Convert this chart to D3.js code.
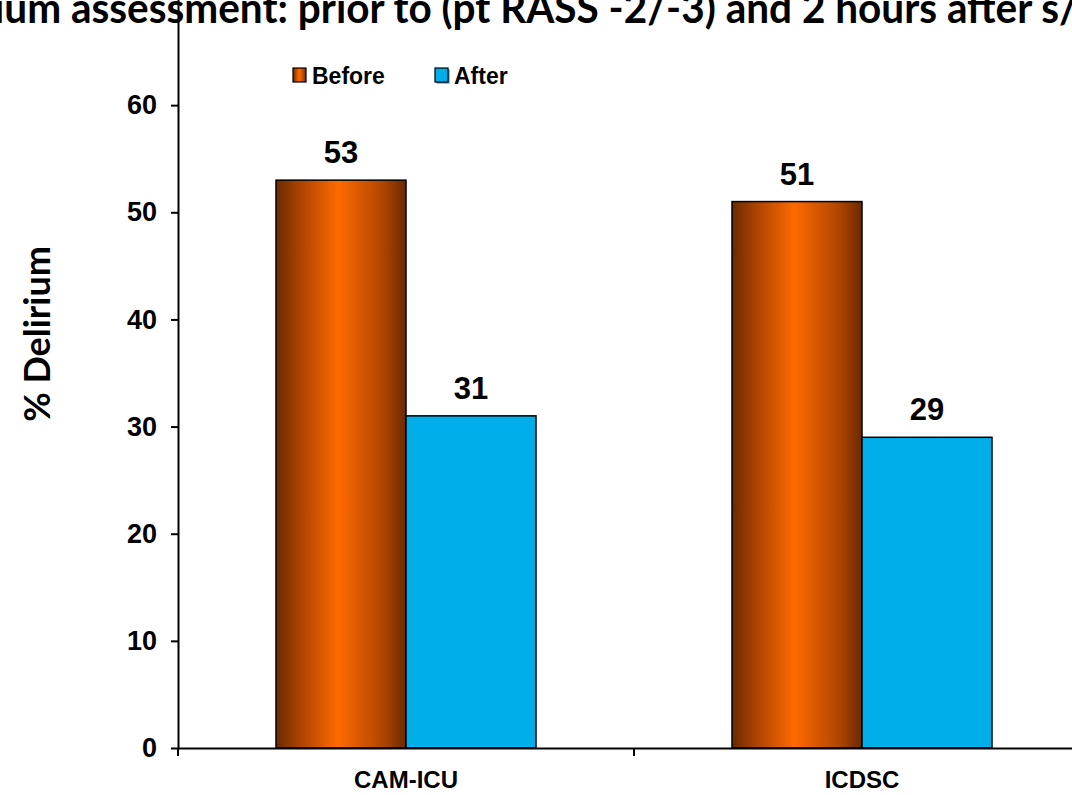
<!DOCTYPE html>
<html>
<head>
<meta charset="utf-8">
<script src="https://cdn.jsdelivr.net/npm/d3@7"></script>
<style>
  html, body { margin: 0; padding: 0; background: #ffffff; }
  svg { display: block; }
</style>
</head>
<body>
<div id="chart"></div>
<script>
// ---- data ----
const categories = ["CAM-ICU", "ICDSC"];
const seriesNames = ["Before", "After"];
const beforeValues = [53, 51];
const afterValues = [31, 29];
const yTicks = [0, 10, 20, 30, 40, 50, 60];
const titleText = "ium assessment: prior to (pt RASS -2/-3) and 2 hours after s/";
const yAxisTitle = "% Delirium";

// ---- layout ----
const W = 1072, H = 795;
const svg = d3.select("#chart").append("svg").attr("width", W).attr("height", H);
const defs = svg.append("defs");

const grad = defs.append("linearGradient").attr("id", "gBefore")
  .attr("x1", "0%").attr("x2", "100%").attr("y1", "0%").attr("y2", "0%");
[[0, "#6a2a00"], [0.18, "#a94300"], [0.48, "#ff6a00"], [0.82, "#b04600"], [1, "#6a2a00"]]
  .forEach(([o, c]) => grad.append("stop").attr("offset", o).attr("stop-color", c));

const colors = { Before: "url(#gBefore)", After: "#00aeea" };

const y = d3.scaleLinear().domain([0, 70]).range([748, -2]);
const x0 = d3.scaleBand().domain(categories).range([178, 1090]).padding(0);
const groupW = 260;
const x1 = d3.scaleBand().domain(seriesNames).range([0, groupW]).padding(0);

const rows = categories.map((c, i) => ({ cat: c, Before: beforeValues[i], After: afterValues[i] }));

// ---- title (clipped at the top of the page) ----
svg.append("text")
  .attr("x", -6).attr("y", 23)
  .attr("textLength", 1084).attr("lengthAdjust", "spacingAndGlyphs")
  .style("font-family", "Lato, 'Open Sans', sans-serif")
  .style("font-weight", "bold").style("font-size", "42px")
  .attr("fill", "#000").text(titleText);

// ---- bars ----
const groups = svg.append("g").selectAll("g").data(rows).join("g")
  .attr("transform", d => `translate(${x0(d.cat) + (x0.bandwidth() - groupW) / 2},0)`);

groups.selectAll("rect").data(d => seriesNames.map(s => ({ s, v: d[s] }))).join("rect")
  .attr("x", d => x1(d.s)).attr("width", x1.bandwidth())
  .attr("y", d => y(d.v)).attr("height", d => y(0) - y(d.v))
  .attr("fill", d => colors[d.s]).attr("stroke", "#000").attr("stroke-width", 1.5);

groups.selectAll("text").data(d => seriesNames.map(s => ({ s, v: d[s] }))).join("text")
  .attr("x", d => x1(d.s) + x1.bandwidth() / 2).attr("y", d => y(d.v) - 17)
  .attr("text-anchor", "middle")
  .style("font-family", "Arial, 'Liberation Sans', sans-serif")
  .style("font-weight", "bold").style("font-size", "31px")
  .text(d => d.v);

// ---- y axis ----
const yAxis = svg.append("g").attr("transform", "translate(178,0)")
  .call(d3.axisLeft(y).tickValues(yTicks).tickSize(7).tickSizeOuter(0).tickPadding(14));
yAxis.select(".domain").attr("stroke", "#000").attr("stroke-width", 2);
yAxis.selectAll(".tick line").attr("stroke", "#000").attr("stroke-width", 2);
yAxis.selectAll(".tick text")
  .style("font-family", "Arial, 'Liberation Sans', sans-serif")
  .style("font-weight", "bold").style("font-size", "27px").attr("fill", "#000");

// ---- x axis ----
const xAxis = svg.append("g").attr("transform", `translate(0,${y(0)})`)
  .call(d3.axisBottom(x0).tickSize(0).tickPadding(23));
xAxis.select(".domain").attr("stroke", "#000").attr("stroke-width", 2);
xAxis.selectAll(".tick text")
  .style("font-family", "Arial, 'Liberation Sans', sans-serif")
  .style("font-weight", "bold").style("font-size", "24px").attr("fill", "#000");
const bounds = categories.map(c => x0(c)).concat([x0.range()[1]]);
svg.append("g").selectAll("line").data(bounds).join("line")
  .attr("x1", d => d).attr("x2", d => d)
  .attr("y1", y(0)).attr("y2", y(0) + 8)
  .attr("stroke", "#000").attr("stroke-width", 2);

// ---- y axis title ----
svg.append("text")
  .attr("transform", "translate(50,334) rotate(-90)")
  .attr("text-anchor", "middle")
  .style("font-family", "Lato, 'Open Sans', sans-serif")
  .style("font-weight", "bold").style("font-size", "36px")
  .text(yAxisTitle);

// ---- legend ----
const legendX = [293, 435];
const legend = svg.append("g").selectAll("g").data(seriesNames).join("g")
  .attr("transform", (d, i) => `translate(${legendX[i]},68)`);
legend.filter(d => d === "After").append("rect")
  .attr("x", 1.5).attr("y", 1.5).attr("width", 13).attr("height", 14).attr("fill", "#0090c0");
legend.append("rect")
  .attr("width", 13).attr("height", 14)
  .attr("fill", d => colors[d]).attr("stroke", "#000").attr("stroke-width", 1.2);
legend.append("text")
  .attr("x", 19).attr("y", 16)
  .style("font-family", "Arial, 'Liberation Sans', sans-serif")
  .style("font-weight", "bold").style("font-size", "23px")
  .text(d => d);
</script>
</body>
</html>
